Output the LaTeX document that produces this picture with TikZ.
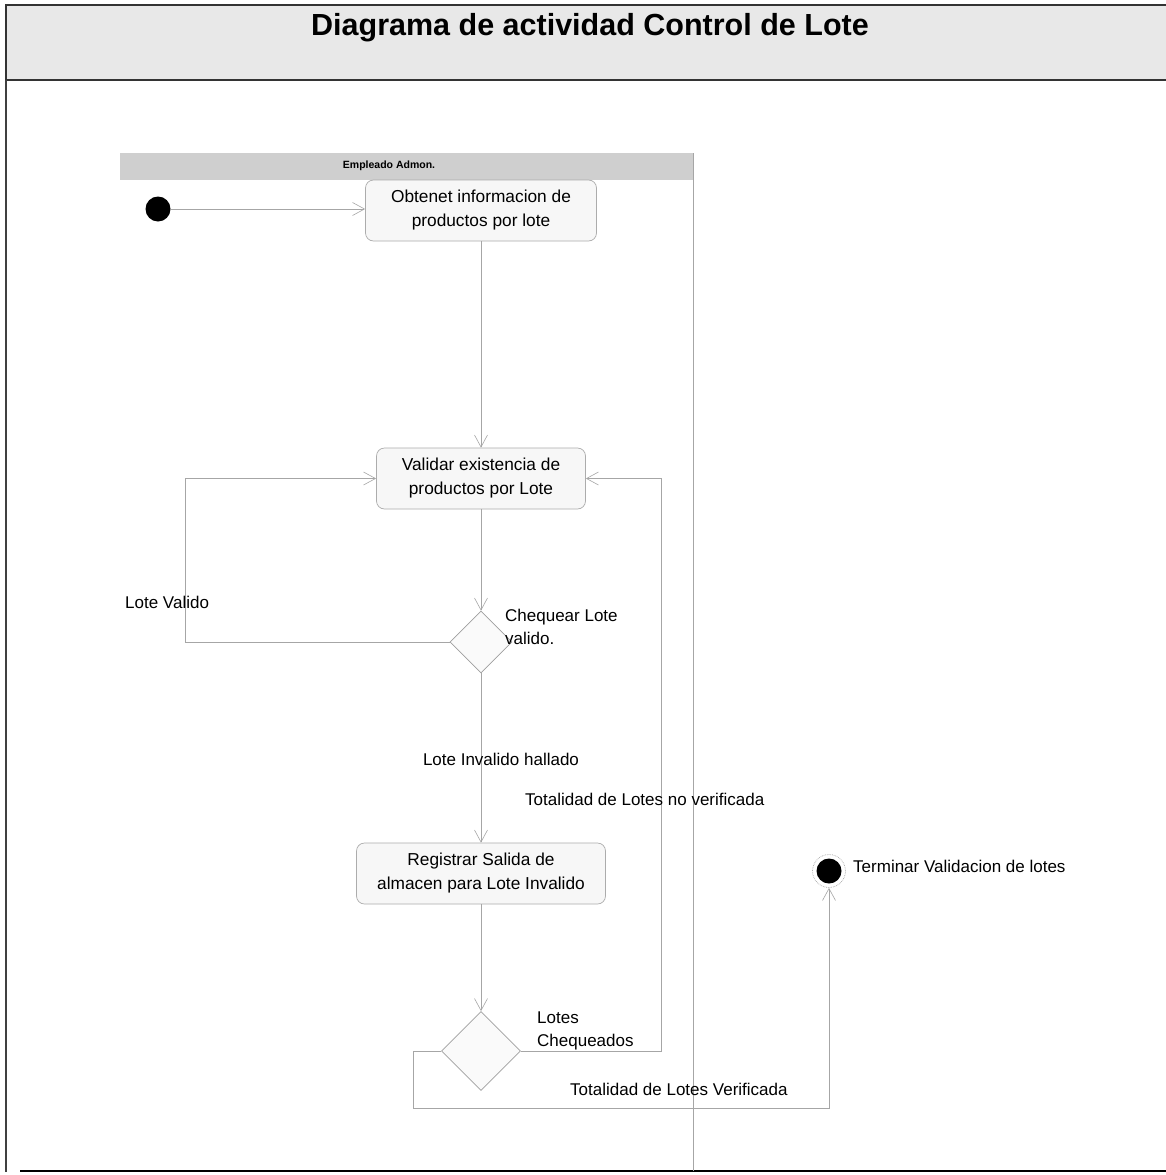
\documentclass[tikz,border=0pt]{standalone}
\usepackage{fontspec}
\setmainfont{Liberation Sans}
\usetikzlibrary{arrows.meta,shapes.geometric}
\begin{document}
\begin{tikzpicture}[x=1pt,y=-1pt,
  every node/.style={inner sep=0pt},
  lbl/.style={font=\fontsize{17}{23}\selectfont, align=left},
  act/.style={draw=gray!65, line width=0.7pt, fill=gray!6, rounded corners=8pt,
    font=\fontsize{17.3}{24}\selectfont, align=center},
  decision/.style={diamond, aspect=1, draw=gray!75, line width=0.7pt, fill=gray!4},
  flow/.style={draw=gray!70, line width=0.7pt},
  arr/.style={flow, -{Straight Barb[length=12pt,width=13pt,line width=0.6pt]}}
]
\useasboundingbox (0,0) rectangle (1166,1175);

% frame and title band
\fill[white] (0,0) rectangle (1166,1175);
\filldraw[fill=gray!18, draw=black!80, line width=1.2pt] (6,5) rectangle (1170,80);
\node[font=\fontsize{30.5}{33}\selectfont\bfseries] (title) at (590,28) {Diagrama de actividad Control de Lote};
\draw[black!75, line width=1.2pt] (6,80) -- (6,1172);
\draw[black, line width=2pt] (20,1171) -- (1166,1171);

% swimlane
\fill[gray!38] (120,153) rectangle (693,180);
\node[font=\fontsize{10.5}{12}\selectfont\bfseries] (lane) at (389,166) {Empleado Admon.};
\draw[gray!70, line width=0.7pt] (693,153) -- (693,1171);

% nodes
\node[circle, fill=black, minimum size=25pt] (start) at (158,209) {};
\node[act, minimum width=231pt, minimum height=61pt] (a1) at (481,210.5)
  {Obtenet informacion de\\productos por lote};
\node[act, minimum width=209pt, minimum height=61pt] (a2) at (481,478.5)
  {Validar existencia de\\productos por Lote};
\node[decision, minimum width=62pt, minimum height=62pt] (d1) at (481,642) {};
\node[act, minimum width=249pt, minimum height=61pt] (a3) at (481,873.5)
  {Registrar Salida de\\almacen para Lote Invalido};
\node[decision, minimum width=79pt, minimum height=79pt] (d2) at (481,1051) {};
\node[circle, draw=gray!70, densely dotted, line width=0.7pt, minimum size=33pt] (fin) at (829,871) {};
\node[circle, fill=black, minimum size=25pt] (finc) at (fin.center) {};

% connector bend points
\coordinate (lv) at (185,642);
\coordinate (rl) at (661,1051);
\coordinate (bl1) at (413,1051);
\coordinate (bl2) at (413,1108);

% connectors
\draw[arr] (start) -- (start -| a1.west);
\draw[arr] (a1) -- (a2);
\draw[arr] (a2) -- (d1.north);
\draw[arr] (d1.west) -- (lv) |- (a2.west);
\draw[arr] (d1.south) -- (a3.north);
\draw[arr] (a3) -- (d2.north);
\draw[arr] (d2.east) -- (rl) |- (a2.east);
\draw[arr] (d2.west) -- (bl1) -- (bl2) -| (fin.south);

% labels
\node[lbl, anchor=west] (l1) at (125,602) {Lote Valido};
\node[lbl, anchor=north west] (l2) at (505,609) {Chequear Lote\\valido.};
\node[lbl] (l3) at (501,759) {Lote Invalido hallado};
\node[lbl, anchor=west] (l4) at (525,799) {Totalidad de Lotes no verificada};
\node[lbl, anchor=north west] (l5) at (537,1012) {Lotes\\Chequeados};
\node[lbl, anchor=west] (l6) at (570,1089) {Totalidad de Lotes Verificada};
\node[lbl, anchor=west] (l7) at (853,866) {Terminar Validacion de lotes};
\end{tikzpicture}
\end{document}
